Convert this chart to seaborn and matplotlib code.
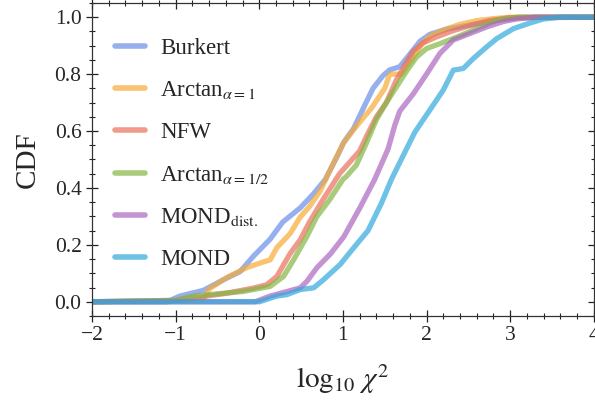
import matplotlib
matplotlib.use("Agg")
import matplotlib.pyplot as plt
import seaborn as sns
from matplotlib.ticker import MultipleLocator

# Cumulative distributions of log10 chi^2 for each rotation-curve model
models = ["Burkert", "Arctan1", "NFW", "Arctan12", "MONDdist", "MOND"]
labels = ["Burkert", r"Arctan$_{\alpha=1}$", "NFW", r"Arctan$_{\alpha=1/2}$",
          r"MOND$_{\rm dist.}$", "MOND"]
colors = ["#6a8ee7", "#f6ab37", "#ea6f5b", "#83b644", "#ab65bf", "#30a9db"]

burkert_x = [-2, -1.1, -0.95, -0.67, -0.43, -0.23, -0.07, 0.13, 0.28, 0.49, 0.65, 0.79, 0.93, 1.01,
             1.13, 1.26, 1.36, 1.48, 1.56, 1.68, 1.80, 1.92, 2.04, 2.24, 2.52, 2.84, 3.12, 4]
burkert_y = [0, 0, 0.02, 0.04, 0.077, 0.106, 0.16, 0.22, 0.28, 0.33, 0.38, 0.43, 0.51, 0.56,
             0.61, 0.69, 0.75, 0.795, 0.815, 0.826, 0.87, 0.915, 0.94, 0.958, 0.973, 0.988, 1.0, 1.0]

arctan1_x = [-2, -0.8, -0.66, -0.6, -0.39, -0.15, 0.05, 0.13, 0.21, 0.37, 0.49, 0.6, 0.73, 0.85,
             1.01, 1.17, 1.34, 1.50, 1.56, 1.70, 1.82, 1.94, 2.05, 2.2, 2.4, 2.6, 2.8, 3.0, 4]
arctan1_y = [0, 0.005, 0.012, 0.045, 0.085, 0.12, 0.14, 0.147, 0.19, 0.24, 0.298, 0.334, 0.39, 0.465,
             0.56, 0.62, 0.68, 0.75, 0.80, 0.80, 0.85, 0.905, 0.935, 0.955, 0.975, 0.988, 0.995, 1.0, 1.0]

nfw_x = [-2, -1.0, -0.39, -0.07, 0.09, 0.21, 0.37, 0.49, 0.6, 0.76, 0.96, 1.08, 1.20, 1.28,
         1.40, 1.52, 1.64, 1.76, 1.84, 1.96, 2.11, 2.31, 2.51, 2.75, 2.99, 4]
nfw_y = [0, 0.005, 0.03, 0.048, 0.06, 0.089, 0.17, 0.218, 0.28, 0.358, 0.45, 0.49, 0.53, 0.58,
         0.65, 0.70, 0.78, 0.84, 0.88, 0.91, 0.93, 0.952, 0.97, 0.988, 0.998, 1.0]

arctan12_x = [-2, -1.0, -0.79, -0.2, 0.13, 0.29, 0.41, 0.57, 0.69, 0.84, 1.0, 1.04, 1.16, 1.28,
              1.40, 1.52, 1.64, 1.76, 1.88, 2.0, 2.16, 2.36, 2.6, 2.84, 3.08, 4]
arctan12_y = [0, 0.005, 0.02, 0.036, 0.054, 0.089, 0.147, 0.23, 0.30, 0.358, 0.43, 0.44, 0.48, 0.557,
              0.64, 0.70, 0.755, 0.81, 0.86, 0.89, 0.907, 0.93, 0.96, 0.99, 1.0, 1.0]

monddist_x = [-2, -0.05, 0.13, 0.33, 0.49, 0.57, 0.69, 0.85, 1.01, 1.21, 1.38, 1.54, 1.62, 1.68,
              1.84, 2.0, 2.16, 2.32, 2.52, 2.72, 2.92, 3.08, 3.3, 4]
monddist_y = [0, 0, 0.02, 0.036, 0.049, 0.072, 0.12, 0.168, 0.228, 0.334, 0.43, 0.537, 0.62, 0.67,
              0.73, 0.80, 0.873, 0.92, 0.943, 0.966, 0.985, 0.994, 1.0, 1.0]

mond_x = [-2, 0.0, 0.21, 0.33, 0.49, 0.65, 0.77, 0.97, 1.13, 1.30, 1.46, 1.58, 1.74, 1.86,
          2.04, 2.2, 2.32, 2.44, 2.56, 2.72, 2.84, 3.04, 3.24, 3.40, 3.6, 4]
mond_y = [0, 0, 0.02, 0.025, 0.043, 0.049, 0.078, 0.132, 0.19, 0.25, 0.346, 0.43, 0.525, 0.596,
          0.674, 0.744, 0.814, 0.82, 0.855, 0.896, 0.925, 0.96, 0.98, 0.994, 1.0, 1.0]

curves = [(burkert_x, burkert_y), (arctan1_x, arctan1_y), (nfw_x, nfw_y),
          (arctan12_x, arctan12_y), (monddist_x, monddist_y), (mond_x, mond_y)]

sns.set_theme(style="ticks")
plt.rcParams["font.family"] = ["Liberation Serif", "DejaVu Serif"]
plt.rcParams["mathtext.fontset"] = "stix"

fig = plt.figure(figsize=(5.95, 4.0), dpi=100)
ax = fig.add_axes([0.1546, 0.21, 0.8434, 0.7825])

for (xs, ys), lab, col in zip(curves, labels, colors):
    sns.lineplot(x=xs, y=ys, ax=ax, color=col, lw=3.8, alpha=0.7, label=lab,
                 estimator=None, sort=False)

ax.set_xlim(-2, 4)
ax.set_ylim(-0.05, 1.05)
ax.xaxis.set_major_locator(MultipleLocator(1))
ax.xaxis.set_minor_locator(MultipleLocator(0.2))
ax.yaxis.set_major_locator(MultipleLocator(0.2))
ax.yaxis.set_minor_locator(MultipleLocator(0.05))
ax.yaxis.set_major_formatter(matplotlib.ticker.FormatStrFormatter("%.1f"))

ax.tick_params(which="both", direction="inout", top=True, right=True,
               color="#222222", labelsize=15.5)
ax.tick_params(which="major", length=8, width=0.9)
ax.tick_params(which="minor", length=5, width=0.8)
for s in ax.spines.values():
    s.set_color("#333333")
    s.set_linewidth(0.9)

ax.set_xlabel(r"$\log_{10}\,\chi^2$", fontsize=21, labelpad=12)
ax.set_ylabel("CDF", fontsize=21, labelpad=10)

leg = ax.legend(loc="upper left", bbox_to_anchor=(0.005, 0.955), frameon=False,
                fontsize=16.5, handlelength=1.3, handletextpad=0.65, labelspacing=0.9)
for h in leg.get_lines():
    h.set_linewidth(4)

fig.savefig("out.png", dpi=100)
